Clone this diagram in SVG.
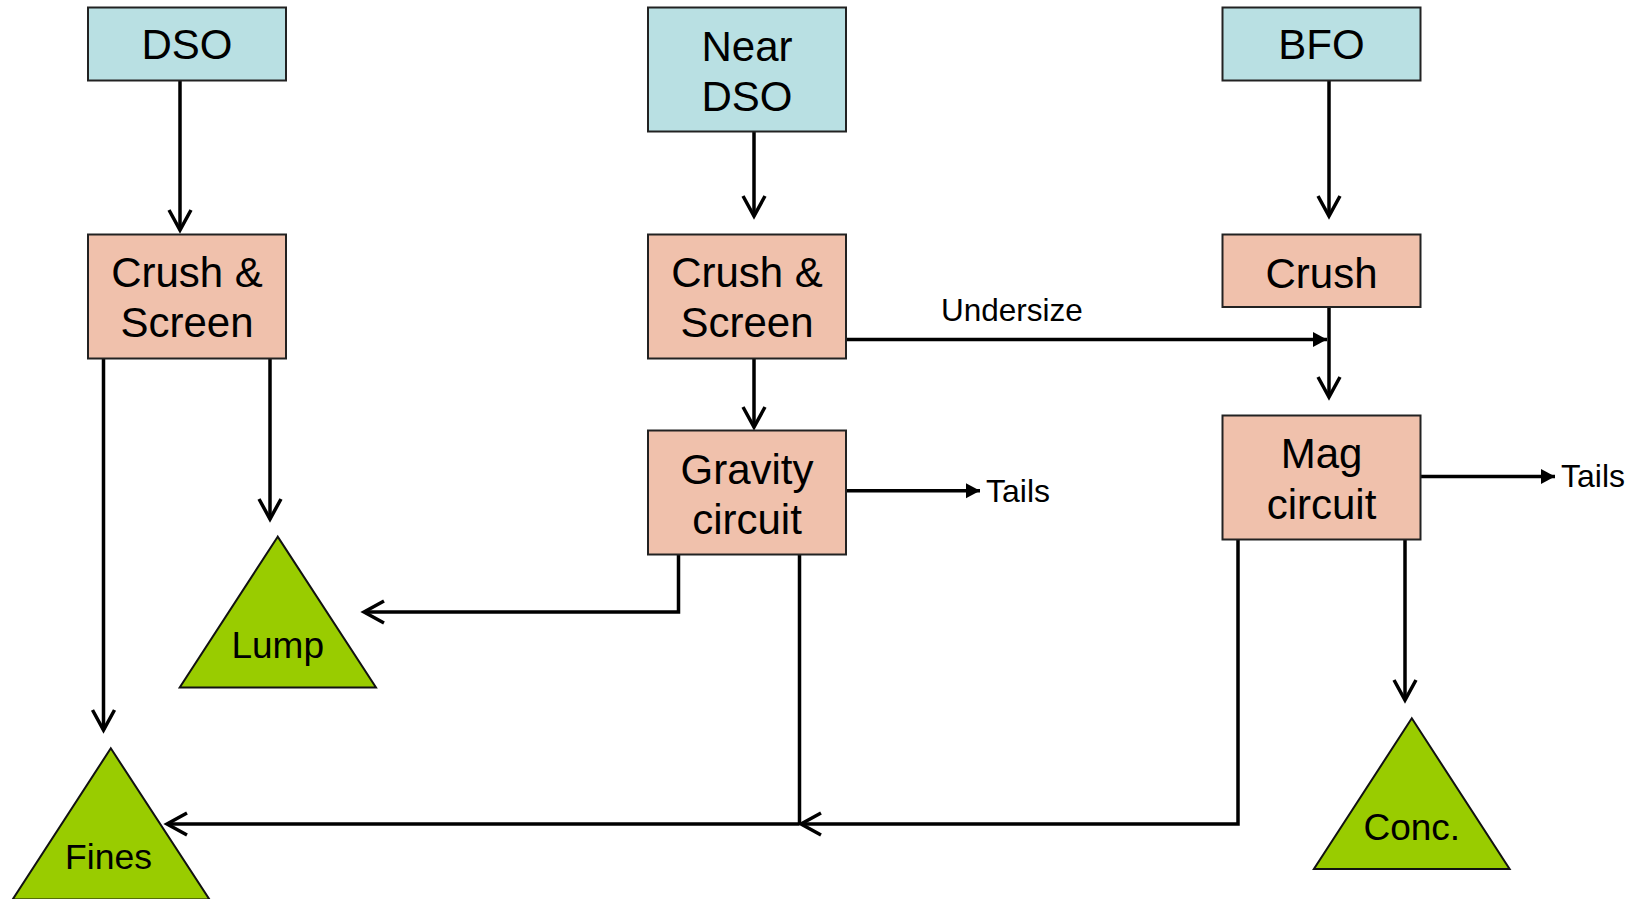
<svg xmlns="http://www.w3.org/2000/svg" width="1637" height="899" viewBox="0 0 1637 899">
  <style>
    .src { fill: #B9E0E3; stroke: #222; stroke-width: 2; }
    .proc { fill: #F0C1AC; stroke: #222; stroke-width: 2; }
    .prod { fill: #99CC00; stroke: #111; stroke-width: 2; stroke-linejoin: miter; }
    .big { font-family: "Liberation Sans", Arial, sans-serif; font-size: 42px; fill: #000; text-anchor: middle; }
    .tri { font-family: "Liberation Sans", Arial, sans-serif; font-size: 37px; fill: #000; text-anchor: middle; }
    .lbl { font-family: "Liberation Sans", Arial, sans-serif; font-size: 32px; fill: #000; }
    .conn { fill: none; stroke: #000; stroke-width: 3.5; }
  </style>
  <defs>
    <marker id="open" viewBox="-24 -14 28 28" refX="0" refY="0" markerWidth="28" markerHeight="28" markerUnits="userSpaceOnUse" orient="auto">
      <path d="M-20,-11 L0,0 L-20,11" fill="none" stroke="#000" stroke-width="3.5"/>
    </marker>
    <marker id="solid" viewBox="-16 -9 18 18" refX="0" refY="0" markerWidth="18" markerHeight="18" markerUnits="userSpaceOnUse" orient="auto">
      <path d="M-14,-7.5 L0,0 L-14,7.5 Z" fill="#000"/>
    </marker>
  </defs>

  <g id="connectors">
    <path class="conn" d="M180,81 L180,230" marker-end="url(#open)"/>
    <path class="conn" d="M754,128 L754,216" marker-end="url(#open)"/>
    <path class="conn" d="M1329,81 L1329,216" marker-end="url(#open)"/>
    <path class="conn" d="M1329,308 L1329,397" marker-end="url(#open)"/>
    <path class="conn" d="M846,339.5 L1327,339.5" marker-end="url(#solid)"/>
    <path class="conn" d="M754,358 L754,427" marker-end="url(#open)"/>
    <path class="conn" d="M846,490.7 L980,490.7" marker-end="url(#solid)"/>
    <path class="conn" d="M1420,476.5 L1555,476.5" marker-end="url(#solid)"/>
    <path class="conn" d="M103.5,356 L103.5,730" marker-end="url(#open)"/>
    <path class="conn" d="M270,356 L270,519" marker-end="url(#open)"/>
    <path class="conn" d="M678.5,552 L678.5,612 L364,612" marker-end="url(#open)"/>
    <path class="conn" d="M799.5,552 L799.5,824"/>
    <path class="conn" d="M799.5,824 L167,824" marker-end="url(#open)"/>
    <path class="conn" d="M1238,537 L1238,824 L801,824" marker-end="url(#open)"/>
    <path class="conn" d="M1405,537 L1405,700" marker-end="url(#open)"/>
    <text class="lbl" x="941" y="321" style="font-size:31.5px">Undersize</text>
    <text class="lbl" x="986" y="501.5">Tails</text>
    <text class="lbl" x="1561" y="487">Tails</text>
  </g>

  <g id="dso">
    <rect class="src" x="88" y="7.5" width="198" height="73"/>
    <text class="big" x="187" y="59">DSO</text>
  </g>
  <g id="near-dso">
    <rect class="src" x="648" y="7.5" width="198" height="124"/>
    <text class="big" x="747" y="61">Near</text>
    <text class="big" x="747" y="111">DSO</text>
  </g>
  <g id="bfo">
    <rect class="src" x="1222.5" y="7.5" width="198" height="73"/>
    <text class="big" x="1321.5" y="59">BFO</text>
  </g>

  <g id="crush-screen-1">
    <rect class="proc" x="88" y="234.5" width="198" height="124"/>
    <text class="big" x="187" y="286.5">Crush &amp;</text>
    <text class="big" x="187" y="337">Screen</text>
  </g>
  <g id="crush-screen-2">
    <rect class="proc" x="648" y="234.5" width="198" height="124"/>
    <text class="big" x="747" y="286.5">Crush &amp;</text>
    <text class="big" x="747" y="337">Screen</text>
  </g>
  <g id="crush">
    <rect class="proc" x="1222.5" y="234.5" width="198" height="72.5"/>
    <text class="big" x="1321.5" y="287.5">Crush</text>
  </g>

  <g id="gravity-circuit">
    <rect class="proc" x="648" y="430.5" width="198" height="124"/>
    <text class="big" x="747" y="483.5">Gravity</text>
    <text class="big" x="747" y="533.5">circuit</text>
  </g>
  <g id="mag-circuit">
    <rect class="proc" x="1222.5" y="415.5" width="198" height="124"/>
    <text class="big" x="1321.5" y="468">Mag</text>
    <text class="big" x="1321.5" y="519">circuit</text>
  </g>

  <g id="lump">
    <polygon class="prod" points="277.7,536.7 179.7,687.5 376,687.5"/>
    <text class="tri" x="277.7" y="657.5">Lump</text>
  </g>
  <g id="fines">
    <polygon class="prod" points="110.8,748.3 12.6,899.5 209.5,899.5"/>
    <text class="tri" x="108.5" y="869" style="font-size:35.5px">Fines</text>
  </g>
  <g id="conc">
    <polygon class="prod" points="1411.8,718.3 1313.9,869 1509.6,869"/>
    <text class="tri" x="1411.8" y="840">Conc.</text>
  </g>
</svg>
